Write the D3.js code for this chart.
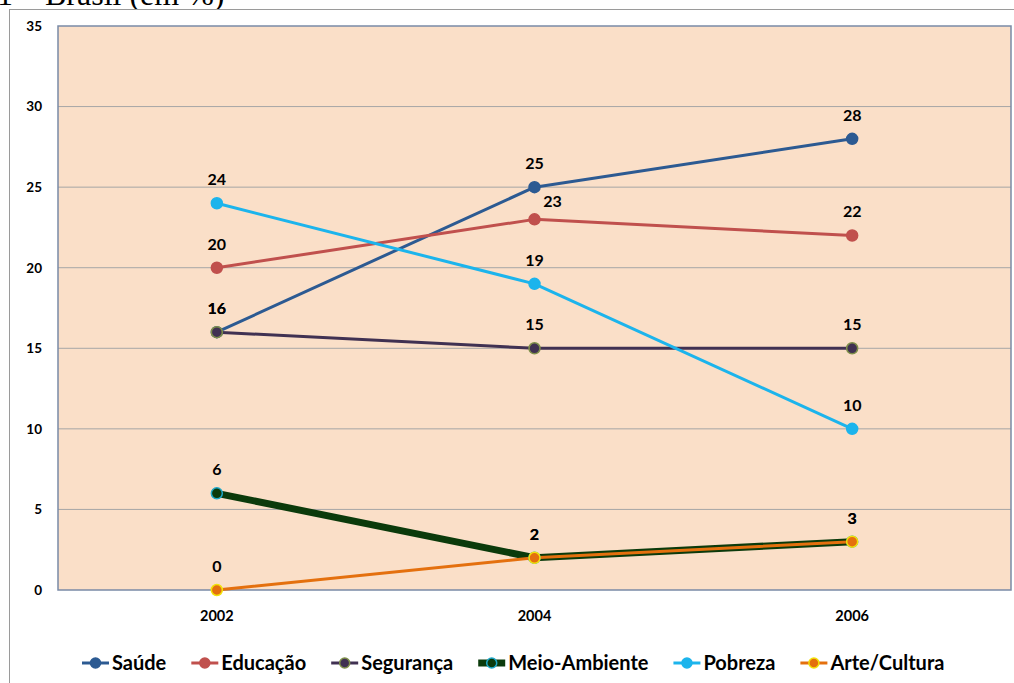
<!DOCTYPE html>
<html>
<head>
<meta charset="utf-8">
<script src="https://cdn.jsdelivr.net/npm/d3@7"></script>
<style>
  body { margin: 0; background: #fff; }
  svg { display: block; }
  text { font-family: Lato, "Open Sans", sans-serif; }
</style>
</head>
<body>
<svg id="chart" width="1014" height="683"></svg>
<script>
// data
const years = ["2002", "2004", "2006"];
const seriesNames = ["Saúde", "Educação", "Segurança", "Meio-Ambiente", "Pobreza", "Arte/Cultura"];
const saude = [16, 25, 28];
const educacao = [20, 23, 22];
const seguranca = [16, 15, 15];
const meioAmbiente = [6, 2, 3];
const pobreza = [24, 19, 10];
const arteCultura = [0, 2, 3];
const yTicks = [0, 5, 10, 15, 20, 25, 30, 35];

const allValues = [saude, educacao, seguranca, meioAmbiente, pobreza, arteCultura];

// styling per series
const styles = [
  { color: "#2C5A92", width: 3, fill: "#2C5A92", stroke: "#2C5A92" },
  { color: "#C0504D", width: 3, fill: "#C0504D", stroke: "#C0504D" },
  { color: "#403152", width: 3, fill: "#403152", stroke: "#7E8F4A" },
  { color: "#0B3A0B", width: 7, fill: "#0B3A0B", stroke: "#1DA7C8" },
  { color: "#1CB4EC", width: 3, fill: "#1CB4EC", stroke: "#1CB4EC" },
  { color: "#E4700E", width: 3, fill: "#E4700E", stroke: "#F2E20A" }
];

const svg = d3.select("#chart");
const margin = { top: 26, right: 3, bottom: 93, left: 58 };
const W = 1014, H = 683;
const plotW = W - margin.left - margin.right;
const plotH = H - margin.top - margin.bottom;

// title, cut at the top of the page as in the source
svg.append("text")
  .attr("x", -3).attr("y", 5)
  .style("font-family", "'Liberation Serif', 'DejaVu Serif', serif")
  .style("font-size", "32px")
  .attr("fill", "#000")
  .text("1 – Brasil (em %)");

// outer chart frame
svg.append("rect")
  .attr("x", 9.5).attr("y", 9.5)
  .attr("width", 1020).attr("height", 700)
  .attr("fill", "#fff")
  .attr("stroke", "#9a9a9a").attr("stroke-width", 1);

const x = d3.scaleBand().domain(years).range([0, plotW]);
const y = d3.scaleLinear().domain([0, 35]).range([plotH, 0]);

const plot = svg.append("g").attr("transform", `translate(${margin.left},${margin.top})`);

plot.append("rect")
  .attr("width", plotW).attr("height", plotH)
  .attr("fill", "#FADFC8");

// gridlines
plot.selectAll(".grid")
  .data(yTicks.filter(d => d > 0 && d < 35))
  .join("line")
  .attr("x1", 0).attr("x2", plotW)
  .attr("y1", d => y(d)).attr("y2", d => y(d))
  .attr("stroke", "#A6A6A6").attr("stroke-width", 1);

plot.append("rect")
  .attr("width", plotW).attr("height", plotH)
  .attr("fill", "none")
  .attr("stroke", "#7A8AA6").attr("stroke-width", 1.5);

// y axis labels
const yAxis = d3.axisLeft(y).tickValues(yTicks).tickSize(0).tickPadding(16);
plot.append("g").call(yAxis)
  .call(g => g.select(".domain").remove())
  .selectAll("text")
  .style("font-family", "Lato, sans-serif")
  .style("font-size", "13.5px").style("font-weight", "bold").attr("fill", "#000");

// x axis labels
const xAxis = d3.axisBottom(x).tickSize(0).tickPadding(21);
plot.append("g").attr("transform", `translate(0,${plotH})`).call(xAxis)
  .call(g => g.select(".domain").remove())
  .selectAll("text")
  .style("font-family", "Lato, sans-serif")
  .style("font-size", "14.5px").style("font-weight", "bold").attr("fill", "#000");

const line = d3.line()
  .x((d, i) => x(years[i]) + x.bandwidth() / 2)
  .y(d => y(d));

// draw order: Meio-Ambiente below Arte/Cultura
const order = [0, 1, 2, 4, 3, 5];
order.forEach(s => {
  const st = styles[s];
  plot.append("path")
    .attr("d", line(allValues[s]))
    .attr("fill", "none")
    .attr("stroke", st.color)
    .attr("stroke-width", st.width)
    .attr("stroke-linejoin", "round");
});
order.forEach(s => {
  const st = styles[s];
  plot.selectAll(null)
    .data(allValues[s])
    .join("circle")
    .attr("cx", (d, i) => x(years[i]) + x.bandwidth() / 2)
    .attr("cy", d => y(d))
    .attr("r", 5.5)
    .attr("fill", st.fill)
    .attr("stroke", st.stroke)
    .attr("stroke-width", 1.5);
});

// data labels
allValues.forEach((vals, s) => {
  plot.selectAll(null)
    .data(vals)
    .join("text")
    .attr("x", (d, i) => x(years[i]) + x.bandwidth() / 2 + (s === 1 && i === 1 ? 18 : 0))
    .attr("y", (d, i) => y(d) - (s === 1 && i === 1 ? 12 : 18))
    .attr("text-anchor", "middle")
    .style("font-size", "16px").style("font-weight", "bold")
    .attr("fill", "#000")
    .text(d => d);
});

// legend
const legend = svg.append("g").attr("transform", "translate(82,663)");
let lx = 0;
seriesNames.forEach((name, s) => {
  const st = styles[s];
  const item = legend.append("g").attr("transform", `translate(${lx},0)`);
  item.append("line")
    .attr("x1", 0).attr("x2", 27).attr("y1", 0).attr("y2", 0)
    .attr("stroke", st.color).attr("stroke-width", st.width);
  item.append("circle")
    .attr("cx", 13.5).attr("cy", 0).attr("r", 5)
    .attr("fill", st.fill).attr("stroke", st.stroke).attr("stroke-width", 1.5);
  const t = item.append("text")
    .attr("x", 30).attr("y", 7)
    .style("font-size", "20px").style("font-weight", "bold")
    .attr("fill", "#000")
    .text(name);
  lx += 30 + t.node().getComputedTextLength() + 25;
});
</script>
</body>
</html>
